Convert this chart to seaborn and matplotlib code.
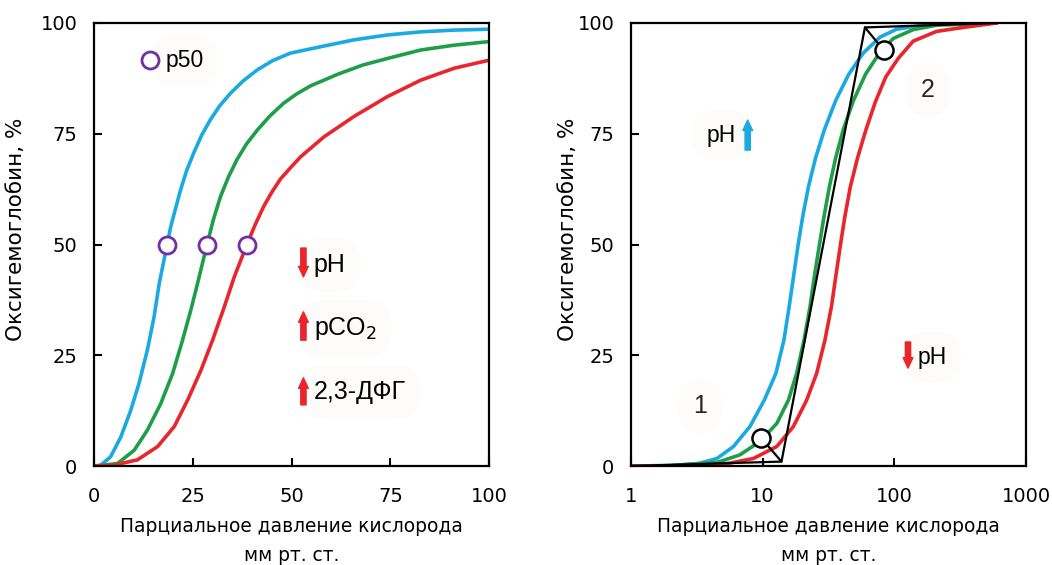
import numpy as np
import pandas as pd
import seaborn as sns
import matplotlib.pyplot as plt

# ---- data ----
# left panel, linear scale (pO2 in mm Hg, saturation in %)
lin_blue_x = [0, 1.7, 4.2, 6.8, 9.3, 11.4, 13.5, 15.2, 16.5, 18.5, 19.4, 21.8, 23.4, 25.2, 27.2, 29.4, 31.8, 34.5, 37.7, 41.3, 45.2, 49.7, 58.2, 65.8, 74.3, 82.7, 91.2, 100]
lin_blue_y = [0, 0.2, 2.1, 6.6, 12.6, 18.7, 26.2, 33.7, 41.2, 50, 54, 62, 66.6, 70.6, 74.6, 78.1, 81.3, 84.1, 86.9, 89.4, 91.5, 93.2, 94.8, 96.2, 97.3, 98, 98.4, 98.6]
lin_green_x = [0, 2, 6, 10.2, 13.5, 16.9, 19.9, 22.4, 24.5, 26.2, 28.6, 30.2, 32, 34, 36.2, 38.6, 41.3, 44.5, 48, 51.3, 54.8, 61.6, 68, 74.3, 82.7, 91.2, 100]
lin_green_y = [0, 0.1, 0.6, 3.6, 8.1, 14.1, 20.9, 28.4, 35.2, 41.2, 50, 55.6, 60.8, 65.2, 69.2, 72.7, 75.8, 79, 81.9, 84, 85.8, 88.4, 90.5, 92, 93.9, 95, 95.8]
lin_red_x = [0, 5.1, 11, 16.1, 20.3, 23.7, 27.1, 30, 33, 35.5, 38.7, 40.8, 43, 45, 47.2, 49.7, 52.3, 58.2, 65.8, 74.3, 82.7, 91.2, 100]
lin_red_y = [0, 0.2, 1.4, 4.4, 8.9, 14.9, 21.7, 28.4, 36, 42.7, 50, 54.5, 58.7, 61.8, 64.8, 67.3, 69.8, 74.3, 78.9, 83.4, 87.1, 89.8, 91.6]
p50_x = [18.5, 28.6, 38.7]
p50_y = [50, 50, 50]

# right panel, log scale
log_blue_x = [1, 2, 3.3, 4.5, 6.0, 8.0, 10.3, 12.6, 14.5, 15.9, 17.3, 18.6, 20.2, 22.3, 25.2, 29.5, 36, 45, 58, 77.8, 104, 186, 600]
log_blue_y = [0, 0.1, 0.6, 1.7, 4.4, 8.9, 14.9, 20.9, 28.4, 36, 43.5, 50, 56.5, 63.1, 69.5, 76, 82.6, 88.4, 93.2, 96.8, 98.6, 99.7, 100]
log_green_x = [1, 2, 4.5, 6.7, 9.5, 12.8, 15.7, 18.1, 20.6, 22.9, 24.9, 27, 29.3, 32.1, 35.8, 41, 48.9, 60.6, 77, 98, 139, 209, 600]
log_green_y = [0, 0.1, 0.8, 2.5, 5.5, 9.6, 14.9, 20.9, 28.4, 36, 43.5, 50, 56.5, 63, 69.5, 76, 82.5, 88.5, 93.2, 96.5, 98.5, 99.5, 100]
log_red_x = [1, 2, 5.3, 8.5, 12.8, 17.1, 21.6, 25.7, 29.7, 33.3, 36.2, 39, 42.2, 46.3, 52.5, 61, 72, 86, 107, 139, 209, 334, 600]
log_red_y = [0, 0, 0.5, 1.7, 4.4, 8.9, 14.9, 20.9, 28.4, 36, 43.5, 50, 56.5, 63, 69.5, 76, 82.3, 87.8, 92, 95.9, 98.1, 99, 100]
# piecewise black line and the two marked points
black_x = [1, 13.9, 59.8, 600]
black_y = [0, 1.0, 99, 100]
mark_x = [9.7, 83.4]
mark_y = [6.4, 93.8]

blue, green, red = '#1aa9e1', '#1f9e4a', '#e8262b'
purple = '#7030a0'

sns.set_theme(style='ticks')
plt.rcParams['font.family'] = ['DejaVu Sans']

fig = plt.figure(figsize=(10.52, 5.65), dpi=100)
ax1 = fig.add_axes([0.0894, 0.1752, 0.3755, 0.7841])
ax2 = fig.add_axes([0.5998, 0.1752, 0.3755, 0.7841])

# ---- left panel ----
for xs, ys, c in [(lin_blue_x, lin_blue_y, blue), (lin_green_x, lin_green_y, green), (lin_red_x, lin_red_y, red)]:
    sns.lineplot(x=xs, y=ys, color=c, linewidth=2.6, sort=False, estimator=None, ax=ax1)
sns.scatterplot(x=p50_x, y=p50_y, s=150, facecolor='white', edgecolor=purple, linewidth=2, zorder=5, ax=ax1)
sns.scatterplot(x=[14.2], y=[91.6], s=150, facecolor='white', edgecolor=purple, linewidth=2, zorder=5, ax=ax1)

# very faint rounded boxes behind the annotations
box = dict(boxstyle='round,pad=0.6,rounding_size=1.0', fc='#fdfcfa', ec='none')
ann_font = dict(fontsize=18, family='Liberation Sans', color='black', va='center', ha='left')
small_font = dict(ann_font, fontsize=16.5)
ax1.text(18.0, 91.6, 'p50', bbox=box, **small_font)
ax1.text(55.6, 45.4, 'pH', bbox=box, **ann_font)
ax1.text(55.6, 31.0, 'pCO$_2$', bbox=box, **ann_font)
ax1.text(55.6, 16.7, '2,3-ДФГ', bbox=box, **ann_font)

arrow = 'simple,head_width=0.7,head_length=0.75,tail_width=0.38'
def big_arrow(ax, x, y0, y1, c):
    ax.annotate('', xy=(x, y1), xytext=(x, y0),
                arrowprops=dict(arrowstyle=arrow, color=c, mutation_scale=10, shrinkA=0, shrinkB=0), zorder=6)

big_arrow(ax1, 53.0, 49.2, 42.7, red)
big_arrow(ax1, 53.0, 28.4, 34.8, red)
big_arrow(ax1, 53.0, 13.8, 19.9, red)

ax1.set_xlim(0, 100)
ax1.set_xticks([0, 25, 50, 75, 100])

# ---- right panel ----
for xs, ys, c in [(log_blue_x, log_blue_y, blue), (log_green_x, log_green_y, green), (log_red_x, log_red_y, red)]:
    sns.lineplot(x=xs, y=ys, color=c, linewidth=2.6, sort=False, estimator=None, ax=ax2)
sns.lineplot(x=black_x, y=black_y, color='black', linewidth=1.6, sort=False, estimator=None, ax=ax2)
# pointers from circles to the corners of the black line
for i, j in [(0, 1), (1, 2)]:
    ax2.plot([mark_x[i], black_x[j]], [mark_y[i], black_y[j]], color='black', linewidth=1.6)
sns.scatterplot(x=mark_x, y=mark_y, s=170, facecolor='white', edgecolor='black', linewidth=1.8, zorder=5, ax=ax2)

ax2.text(3.34, 13.5, '1', bbox=box, ha='center', va='center', fontsize=18, family='Liberation Sans')
ax2.text(180, 84.9, '2', bbox=box, ha='center', va='center', fontsize=18, family='Liberation Sans')
ax2.text(3.75, 74.7, 'pH', bbox=box, **small_font)
big_arrow(ax2, 7.7, 71.3, 78.1, blue)
ax2.text(150, 24.6, 'pH', bbox=box, **small_font)
big_arrow(ax2, 127, 28.0, 22.1, red)

ax2.set_xscale('log')
ax2.set_xlim(1, 1000)
ax2.set_xticks([1, 10, 100, 1000])
ax2.set_xticklabels(['1', '10', '100', '1000'])
ax2.minorticks_off()

# ---- common styling ----
for ax, ylx in [(ax1, -0.172), (ax2, -0.134)]:
    ax.set_ylim(0, 100)
    ax.set_yticks([0, 25, 50, 75, 100])
    ax.tick_params(direction='in', length=6, width=1.5, labelsize=14, colors='black')
    ax.tick_params(axis='x', pad=15)
    ax.tick_params(axis='y', pad=12)
    for s in ax.spines.values():
        s.set_visible(True)
        s.set_linewidth(1.6)
        s.set_color('black')
    ax.set_ylabel('Оксигемоглобин, %', fontsize=15.5, color='black')
    ax.yaxis.set_label_coords(ylx, 0.535)
    ax.set_xlabel('Парциальное давление кислорода\nмм рт. ст.', fontsize=13.4, linespacing=1.7, color='black')
    ax.xaxis.set_label_coords(0.5, -0.115)

plt.savefig('out.png', dpi=100)
